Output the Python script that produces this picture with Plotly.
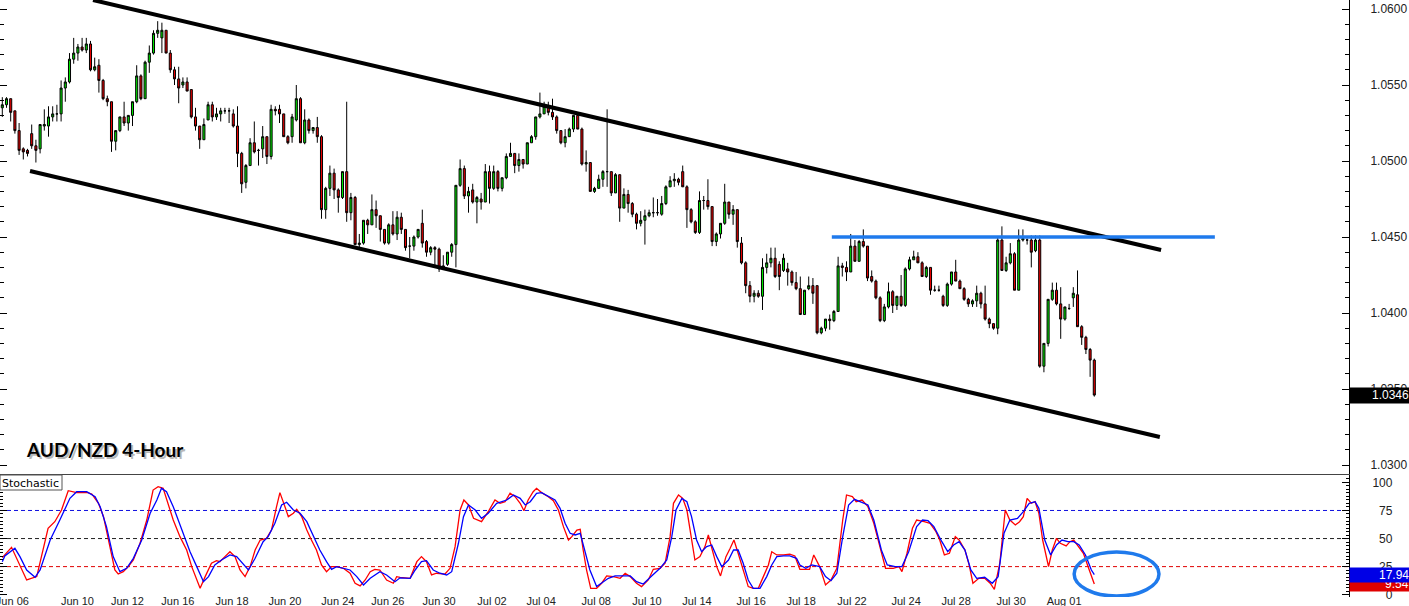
import plotly.graph_objects as go

# ---------------- data ----------------
opens = [
    1.0535, 1.0537, 1.0541, 1.0533, 1.0520, 1.0508, 1.0507, 1.0518, 1.0510, 1.0508,
    1.0523, 1.0523, 1.0529, 1.0531, 1.0531, 1.0548, 1.0552, 1.0567, 1.0571, 1.0575,
    1.0573, 1.0577, 1.0560, 1.0563, 1.0553, 1.0541, 1.0539, 1.0513, 1.0520, 1.0529,
    1.0525, 1.0530, 1.0539, 1.0556, 1.0541, 1.0565, 1.0571, 1.0584, 1.0581, 1.0586,
    1.0571, 1.0560, 1.0554, 1.0550, 1.0552, 1.0547, 1.0529, 1.0523, 1.0514, 1.0527,
    1.0537, 1.0529, 1.0531, 1.0533, 1.0533, 1.0531, 1.0523, 1.0505, 1.0486, 1.0497,
    1.0512, 1.0507, 1.0508, 1.0516, 1.0503, 1.0534, 1.0534, 1.0531, 1.0516, 1.0516,
    1.0527, 1.0541, 1.0512, 1.0527, 1.0520, 1.0522, 1.0516, 1.0468, 1.0482, 1.0492,
    1.0481, 1.0476, 1.0493, 1.0466, 1.0476, 1.0445, 1.0446, 1.0461, 1.0458, 1.0468,
    1.0464, 1.0455, 1.0446, 1.0458, 1.0452, 1.0463, 1.0455, 1.0444, 1.0444, 1.0450,
    1.0459, 1.0447, 1.0440, 1.0443, 1.0442, 1.0430, 1.0432, 1.0440, 1.0445, 1.0484,
    1.0495, 1.0477, 1.0481, 1.0473, 1.0475, 1.0473, 1.0493, 1.0482, 1.0493, 1.0482,
    1.0489, 1.0503, 1.0505, 1.0497, 1.0501, 1.0498, 1.0512, 1.0516, 1.0529, 1.0531,
    1.0536, 1.0532, 1.0529, 1.0520, 1.0512, 1.0516, 1.0521, 1.0530, 1.0521, 1.0498,
    1.0499, 1.0480, 1.0482, 1.0488, 1.0493, 1.0493, 1.0479, 1.0491, 1.0469, 1.0478,
    1.0472, 1.0465, 1.0459, 1.0461, 1.0464, 1.0466, 1.0466, 1.0465, 1.0472, 1.0483,
    1.0487, 1.0488, 1.0493, 1.0483, 1.0468, 1.0460, 1.0453, 1.0474, 1.0474, 1.0470,
    1.0447, 1.0452, 1.0459, 1.0473, 1.0465, 1.0468, 1.0446, 1.0433, 1.0418, 1.0411,
    1.0413, 1.0411, 1.0430, 1.0433, 1.0436, 1.0432, 1.0428, 1.0429, 1.0427, 1.0420,
    1.0416, 1.0399, 1.0416, 1.0418, 1.0418, 1.0387, 1.0390, 1.0396, 1.0395, 1.0401,
    1.0431, 1.0430, 1.0427, 1.0444, 1.0434, 1.0447, 1.0444, 1.0424, 1.0421, 1.0410,
    1.0395, 1.0404, 1.0414, 1.0405, 1.0411, 1.0405, 1.0429, 1.0435, 1.0437, 1.0433,
    1.0424, 1.0430, 1.0415, 1.0415, 1.0411, 1.0405, 1.0419, 1.0427, 1.0421, 1.0416,
    1.0409, 1.0406, 1.0408, 1.0413, 1.0406, 1.0396, 1.0393, 1.0390, 1.0448, 1.0428,
    1.0433, 1.0439, 1.0415, 1.0448, 1.0448, 1.0448, 1.0441, 1.0448, 1.0365, 1.0380,
    1.0409, 1.0415, 1.0406, 1.0396, 1.0403, 1.0410, 1.0412, 1.0391, 1.0384, 1.0376,
    1.0369,
]
highs = [
    1.0542, 1.0542, 1.0541, 1.0533, 1.0525, 1.0509, 1.0508, 1.0524, 1.0514, 1.0524,
    1.0534, 1.0536, 1.0536, 1.0537, 1.0553, 1.0555, 1.0571, 1.0581, 1.0577, 1.0581,
    1.0581, 1.0579, 1.0568, 1.0567, 1.0554, 1.0543, 1.0539, 1.0520, 1.0529, 1.0539,
    1.0530, 1.0539, 1.0563, 1.0557, 1.0566, 1.0576, 1.0586, 1.0592, 1.0591, 1.0586,
    1.0573, 1.0562, 1.0562, 1.0555, 1.0555, 1.0547, 1.0535, 1.0523, 1.0528, 1.0539,
    1.0539, 1.0535, 1.0535, 1.0535, 1.0535, 1.0534, 1.0536, 1.0506, 1.0498, 1.0515,
    1.0526, 1.0508, 1.0523, 1.0516, 1.0537, 1.0536, 1.0537, 1.0531, 1.0517, 1.0531,
    1.0550, 1.0542, 1.0534, 1.0528, 1.0522, 1.0529, 1.0517, 1.0483, 1.0497, 1.0495,
    1.0482, 1.0493, 1.0539, 1.0479, 1.0477, 1.0452, 1.0461, 1.0462, 1.0478, 1.0474,
    1.0464, 1.0455, 1.0459, 1.0467, 1.0467, 1.0466, 1.0455, 1.0450, 1.0451, 1.0455,
    1.0468, 1.0448, 1.0444, 1.0444, 1.0443, 1.0438, 1.0440, 1.0446, 1.0484, 1.0501,
    1.0497, 1.0483, 1.0485, 1.0477, 1.0479, 1.0498, 1.0497, 1.0497, 1.0494, 1.0489,
    1.0505, 1.0512, 1.0505, 1.0505, 1.0501, 1.0512, 1.0517, 1.0529, 1.0545, 1.0539,
    1.0539, 1.0541, 1.0530, 1.0520, 1.0521, 1.0522, 1.0530, 1.0530, 1.0522, 1.0507,
    1.0499, 1.0483, 1.0491, 1.0494, 1.0534, 1.0493, 1.0492, 1.0491, 1.0482, 1.0481,
    1.0473, 1.0466, 1.0467, 1.0468, 1.0468, 1.0476, 1.0475, 1.0477, 1.0484, 1.0490,
    1.0492, 1.0489, 1.0497, 1.0484, 1.0469, 1.0461, 1.0480, 1.0477, 1.0488, 1.0470,
    1.0453, 1.0459, 1.0485, 1.0473, 1.0471, 1.0468, 1.0450, 1.0434, 1.0421, 1.0415,
    1.0415, 1.0436, 1.0439, 1.0443, 1.0443, 1.0434, 1.0439, 1.0433, 1.0428, 1.0427,
    1.0424, 1.0415, 1.0424, 1.0423, 1.0418, 1.0391, 1.0396, 1.0399, 1.0402, 1.0437,
    1.0433, 1.0434, 1.0452, 1.0448, 1.0448, 1.0455, 1.0444, 1.0428, 1.0422, 1.0411,
    1.0406, 1.0420, 1.0415, 1.0411, 1.0425, 1.0430, 1.0437, 1.0441, 1.0440, 1.0434,
    1.0431, 1.0430, 1.0418, 1.0418, 1.0412, 1.0420, 1.0427, 1.0435, 1.0422, 1.0417,
    1.0410, 1.0409, 1.0418, 1.0414, 1.0418, 1.0397, 1.0393, 1.0450, 1.0457, 1.0437,
    1.0446, 1.0440, 1.0455, 1.0455, 1.0449, 1.0451, 1.0451, 1.0451, 1.0380, 1.0409,
    1.0420, 1.0420, 1.0417, 1.0404, 1.0406, 1.0417, 1.0428, 1.0392, 1.0385, 1.0377,
    1.0370,
]
lows = [
    1.0529, 1.0535, 1.0526, 1.0518, 1.0504, 1.0501, 1.0503, 1.0508, 1.0499, 1.0505,
    1.0520, 1.0516, 1.0526, 1.0526, 1.0526, 1.0539, 1.0551, 1.0564, 1.0566, 1.0572,
    1.0571, 1.0559, 1.0559, 1.0545, 1.0540, 1.0536, 1.0506, 1.0507, 1.0519, 1.0523,
    1.0520, 1.0523, 1.0538, 1.0540, 1.0541, 1.0558, 1.0570, 1.0581, 1.0571, 1.0571,
    1.0558, 1.0550, 1.0538, 1.0548, 1.0546, 1.0528, 1.0520, 1.0508, 1.0514, 1.0527,
    1.0526, 1.0527, 1.0526, 1.0531, 1.0525, 1.0522, 1.0496, 1.0479, 1.0482, 1.0497,
    1.0505, 1.0497, 1.0502, 1.0498, 1.0501, 1.0530, 1.0525, 1.0516, 1.0511, 1.0512,
    1.0526, 1.0512, 1.0511, 1.0518, 1.0518, 1.0512, 1.0462, 1.0462, 1.0477, 1.0475,
    1.0466, 1.0475, 1.0460, 1.0461, 1.0445, 1.0443, 1.0445, 1.0452, 1.0458, 1.0456,
    1.0447, 1.0445, 1.0445, 1.0451, 1.0448, 1.0452, 1.0441, 1.0436, 1.0441, 1.0449,
    1.0443, 1.0437, 1.0438, 1.0430, 1.0427, 1.0429, 1.0431, 1.0437, 1.0430, 1.0483,
    1.0475, 1.0466, 1.0472, 1.0459, 1.0468, 1.0473, 1.0472, 1.0481, 1.0480, 1.0480,
    1.0488, 1.0503, 1.0492, 1.0493, 1.0495, 1.0498, 1.0512, 1.0514, 1.0528, 1.0531,
    1.0530, 1.0527, 1.0518, 1.0511, 1.0509, 1.0516, 1.0519, 1.0521, 1.0497, 1.0493,
    1.0480, 1.0479, 1.0482, 1.0483, 1.0483, 1.0477, 1.0479, 1.0460, 1.0469, 1.0466,
    1.0463, 1.0455, 1.0457, 1.0445, 1.0463, 1.0463, 1.0464, 1.0464, 1.0471, 1.0483,
    1.0483, 1.0484, 1.0483, 1.0456, 1.0459, 1.0452, 1.0452, 1.0468, 1.0468, 1.0444,
    1.0444, 1.0449, 1.0458, 1.0462, 1.0458, 1.0443, 1.0432, 1.0413, 1.0407, 1.0407,
    1.0410, 1.0402, 1.0426, 1.0430, 1.0423, 1.0415, 1.0427, 1.0418, 1.0418, 1.0415,
    1.0399, 1.0399, 1.0415, 1.0406, 1.0386, 1.0386, 1.0388, 1.0389, 1.0394, 1.0401,
    1.0424, 1.0421, 1.0427, 1.0434, 1.0434, 1.0443, 1.0421, 1.0420, 1.0409, 1.0394,
    1.0394, 1.0403, 1.0400, 1.0402, 1.0404, 1.0404, 1.0428, 1.0435, 1.0433, 1.0424,
    1.0423, 1.0412, 1.0414, 1.0414, 1.0404, 1.0404, 1.0418, 1.0421, 1.0416, 1.0408,
    1.0404, 1.0404, 1.0404, 1.0403, 1.0395, 1.0390, 1.0389, 1.0386, 1.0428, 1.0427,
    1.0432, 1.0415, 1.0415, 1.0447, 1.0445, 1.0430, 1.0440, 1.0364, 1.0361, 1.0378,
    1.0408, 1.0405, 1.0383, 1.0395, 1.0402, 1.0404, 1.0391, 1.0379, 1.0373, 1.0358,
    1.0345,
]
closes = [
    1.0537, 1.0541, 1.0532, 1.0520, 1.0507, 1.0506, 1.0505, 1.0510, 1.0507, 1.0524,
    1.0524, 1.0529, 1.0531, 1.0531, 1.0548, 1.0552, 1.0567, 1.0571, 1.0575, 1.0573,
    1.0577, 1.0560, 1.0562, 1.0553, 1.0541, 1.0539, 1.0513, 1.0520, 1.0529, 1.0525,
    1.0530, 1.0539, 1.0556, 1.0541, 1.0565, 1.0571, 1.0584, 1.0586, 1.0586, 1.0571,
    1.0560, 1.0554, 1.0548, 1.0552, 1.0546, 1.0529, 1.0523, 1.0514, 1.0524, 1.0537,
    1.0529, 1.0531, 1.0533, 1.0533, 1.0533, 1.0523, 1.0505, 1.0485, 1.0497, 1.0512,
    1.0506, 1.0507, 1.0516, 1.0503, 1.0534, 1.0533, 1.0531, 1.0516, 1.0512, 1.0529,
    1.0541, 1.0512, 1.0527, 1.0520, 1.0522, 1.0516, 1.0468, 1.0482, 1.0492, 1.0481,
    1.0476, 1.0493, 1.0466, 1.0476, 1.0445, 1.0446, 1.0461, 1.0458, 1.0468, 1.0464,
    1.0455, 1.0446, 1.0458, 1.0452, 1.0463, 1.0455, 1.0443, 1.0444, 1.0450, 1.0455,
    1.0446, 1.0440, 1.0443, 1.0442, 1.0429, 1.0431, 1.0440, 1.0445, 1.0484, 1.0495,
    1.0477, 1.0480, 1.0473, 1.0476, 1.0473, 1.0493, 1.0482, 1.0493, 1.0482, 1.0489,
    1.0503, 1.0505, 1.0497, 1.0501, 1.0498, 1.0512, 1.0516, 1.0529, 1.0531, 1.0536,
    1.0532, 1.0529, 1.0520, 1.0512, 1.0516, 1.0521, 1.0530, 1.0521, 1.0498, 1.0499,
    1.0480, 1.0482, 1.0488, 1.0493, 1.0493, 1.0479, 1.0491, 1.0469, 1.0478, 1.0472,
    1.0465, 1.0459, 1.0461, 1.0464, 1.0466, 1.0466, 1.0466, 1.0472, 1.0483, 1.0487,
    1.0488, 1.0486, 1.0483, 1.0468, 1.0460, 1.0453, 1.0474, 1.0474, 1.0470, 1.0447,
    1.0452, 1.0459, 1.0473, 1.0465, 1.0468, 1.0447, 1.0433, 1.0418, 1.0411, 1.0413,
    1.0411, 1.0430, 1.0433, 1.0436, 1.0424, 1.0424, 1.0436, 1.0427, 1.0420, 1.0416,
    1.0399, 1.0415, 1.0418, 1.0413, 1.0387, 1.0390, 1.0396, 1.0395, 1.0401, 1.0431,
    1.0430, 1.0427, 1.0444, 1.0434, 1.0447, 1.0444, 1.0423, 1.0421, 1.0410, 1.0395,
    1.0404, 1.0414, 1.0405, 1.0411, 1.0405, 1.0429, 1.0435, 1.0437, 1.0433, 1.0424,
    1.0430, 1.0415, 1.0415, 1.0415, 1.0405, 1.0419, 1.0427, 1.0421, 1.0416, 1.0409,
    1.0406, 1.0408, 1.0413, 1.0406, 1.0396, 1.0393, 1.0390, 1.0448, 1.0428, 1.0433,
    1.0439, 1.0415, 1.0448, 1.0449, 1.0448, 1.0440, 1.0448, 1.0365, 1.0380, 1.0409,
    1.0415, 1.0406, 1.0396, 1.0404, 1.0403, 1.0413, 1.0391, 1.0384, 1.0376, 1.0369,
    1.0346,
]

# Time-axis labels (bar position, text)
date_label_pos = [2.4, 17.9, 29.8, 41.8, 54.7, 67.3, 79.9, 91.8, 104.0, 116.6, 128.3,
                  141.4, 153.5, 165.4, 178.3, 190.2, 202.3, 215.2, 227.1, 240.2, 252.8]
date_labels = ["Jun 06", "Jun 10", "Jun 12", "Jun 16", "Jun 18", "Jun 20", "Jun 24",
               "Jun 26", "Jun 30", "Jul 02", "Jul 04", "Jul 08", "Jul 10", "Jul 14",
               "Jul 16", "Jul 18", "Jul 22", "Jul 24", "Jul 28", "Jul 30", "Aug 01"]

# Stochastic %K (red) and %D (blue): (bar position, value)
stoch_k_points = [
    (0, 33.0), (2.2, 42.2), (5.8, 13.1), (8.2, 16.1), (10.9, 59.1), (12.5, 65.0), (14.1, 75.4),
    (15.7, 92.6), (17.7, 90.9), (20.1, 91.2), (21.3, 89.7), (22.9, 81.4), (24.1, 69.5),
    (25.6, 42.8), (26.8, 22.0), (27.6, 18.4), (28.8, 20.5), (30.0, 25.0), (31.2, 30.9),
    (32.8, 45.8), (34.4, 66.5), (35.9, 93.2), (37.1, 96.2), (38.3, 94.7), (39.5, 81.4),
    (40.7, 66.5), (42.3, 51.7), (43.9, 39.8), (45.1, 25.0), (46.3, 13.1), (47.1, 5.7),
    (48.3, 16.1), (49.8, 28.0), (51.0, 30.3), (51.8, 29.4), (53.0, 33.9), (54.2, 38.3),
    (55.4, 33.9), (56.6, 22.0), (57.8, 16.1), (59.0, 25.0), (60.2, 39.8), (61.4, 48.7),
    (62.9, 50.2), (64.1, 57.6), (65.3, 78.4), (66.1, 90.9), (67.3, 78.4), (68.1, 69.5),
    (69.3, 72.5), (70.1, 76.0), (71.3, 69.5), (72.5, 57.6), (73.6, 48.7), (74.8, 39.8),
    (76.0, 26.5), (77.2, 20.5), (78.4, 25.0), (79.6, 25.0), (81.2, 23.5), (82.8, 19.1),
    (84.0, 10.2), (85.2, 7.8), (86.4, 13.1), (87.6, 20.5), (88.7, 22.6), (89.9, 22.0),
    (91.5, 13.1), (93.1, 10.2), (93.9, 16.1), (94.7, 15.5), (97.1, 14.6), (98.7, 29.4),
    (99.8, 33.9), (101.0, 29.4), (102.2, 17.6), (103.4, 19.1), (105.4, 18.4), (106.6, 23.5),
    (107.8, 42.8), (109.0, 75.4), (109.9, 84.3), (111.0, 79.9), (112.2, 68.0), (114.1, 65.0),
    (115.7, 73.9), (117.3, 84.3), (118.5, 81.4), (119.7, 82.8), (120.9, 90.3), (122.1, 87.3),
    (123.3, 81.4), (124.2, 74.8), (125.2, 84.3), (126.4, 91.7), (127.2, 94.7), (128.4, 90.9),
    (130.0, 87.3), (131.2, 83.7), (132.4, 75.4), (133.6, 60.6), (134.8, 48.7), (135.6, 51.7),
    (136.8, 57.6), (137.6, 58.2), (138.3, 39.8), (139.1, 22.0), (140.1, 5.7), (141.5, 5.7),
    (142.7, 10.2), (143.9, 16.7), (145.5, 16.1), (147.1, 14.6), (148.3, 19.1), (149.5, 16.1),
    (151.0, 10.2), (152.2, 7.2), (153.8, 13.1), (155.0, 22.6), (156.6, 23.5), (157.8, 28.0),
    (159.0, 51.7), (159.8, 81.4), (161.0, 88.8), (162.0, 85.8), (163.0, 75.4), (164.1, 51.7),
    (164.9, 30.9), (166.1, 33.9), (167.3, 42.8), (168.1, 53.2), (168.9, 42.8), (170.1, 25.0),
    (171.0, 16.7), (172.3, 33.9), (173.3, 41.3), (174.2, 48.7), (175.2, 36.9), (176.4, 22.0),
    (177.6, 7.2), (178.8, 5.7), (180.0, 5.7), (181.2, 16.1), (182.4, 26.5), (183.2, 38.3),
    (184.4, 35.4), (186.0, 35.4), (187.5, 36.2), (188.7, 34.5), (189.9, 22.5), (192.2, 22.6),
    (193.2, 35.4), (194.6, 25.0), (196.0, 8.7), (197.3, 13.1), (198.7, 23.5), (200.1, 66.5),
    (201.0, 88.8), (202.4, 87.3), (203.3, 82.8), (204.7, 84.3), (206.1, 78.4), (207.5, 63.6),
    (208.9, 42.8), (210.3, 23.5), (212.1, 23.5), (213.5, 25.0), (214.2, 20.5), (215.4, 36.9),
    (216.7, 59.1), (217.7, 66.5), (219.5, 65.0), (220.9, 63.6), (222.3, 56.1), (223.2, 48.7),
    (224.3, 35.4), (225.5, 36.9), (226.9, 51.7), (227.8, 48.7), (229.2, 39.8), (230.2, 26.5),
    (231.1, 10.2), (232.5, 14.6), (233.9, 14.6), (235.2, 10.2), (236.2, 4.8), (237.5, 28.0),
    (238.8, 75.4), (239.9, 66.5), (241.2, 62.1), (242.2, 65.0), (243.1, 69.5), (244.0, 85.8),
    (245.0, 81.4), (245.9, 82.8), (246.8, 72.5), (247.7, 48.7), (249.1, 25.0), (250.0, 39.8),
    (251.0, 50.2), (251.9, 45.8), (253.3, 43.4), (254.2, 47.2), (255.1, 48.7), (256.0, 44.3),
    (257.4, 36.9), (258.8, 22.0), (260.0, 9.54),
]
stoch_d_points = [
    (0, 29.4), (0.6, 34.5), (3.0, 41.3), (4.2, 33.9), (5.8, 22.0), (7.8, 15.5), (9.0, 22.0),
    (11.4, 48.7), (13.7, 66.5), (16.1, 85.8), (17.7, 91.7), (20.1, 91.7), (22.1, 87.3),
    (23.3, 78.4), (24.8, 60.6), (26.4, 33.9), (28.0, 20.5), (29.6, 23.5), (31.2, 32.4),
    (33.2, 48.7), (35.2, 72.5), (36.8, 84.3), (37.9, 94.7), (39.1, 91.7), (40.7, 78.4),
    (42.7, 57.6), (44.7, 38.3), (46.3, 25.0), (47.9, 11.6), (49.1, 16.1), (50.6, 26.5),
    (52.2, 30.9), (54.2, 35.4), (55.8, 33.9), (57.4, 26.5), (58.6, 22.0), (60.2, 32.4),
    (62.1, 47.2), (63.3, 51.7), (64.9, 63.6), (66.5, 79.9), (67.7, 82.3), (69.3, 75.4),
    (70.9, 72.5), (72.5, 65.0), (74.1, 51.7), (75.6, 39.8), (77.2, 29.4), (78.4, 22.6),
    (79.6, 25.0), (81.2, 23.5), (82.8, 22.0), (84.4, 16.1), (86.0, 8.7), (87.6, 14.6),
    (89.9, 20.5), (91.5, 17.6), (93.5, 11.6), (94.7, 15.0), (97.1, 14.6), (98.3, 22.0),
    (99.8, 29.4), (101.0, 30.3), (102.6, 22.0), (104.2, 19.1), (105.8, 17.6), (107.0, 20.5),
    (108.6, 45.8), (109.8, 69.5), (111.0, 79.9), (112.6, 75.4), (114.1, 68.0), (115.7, 72.5),
    (117.7, 81.4), (120.1, 84.3), (121.7, 88.8), (123.3, 85.8), (124.5, 79.9), (125.7, 82.8),
    (127.2, 90.3), (128.4, 90.9), (130.0, 87.3), (131.6, 84.3), (132.8, 76.9), (134.0, 63.6),
    (135.2, 54.7), (136.4, 53.2), (137.6, 54.7), (138.7, 39.8), (139.9, 22.0), (141.5, 7.2),
    (142.7, 10.2), (144.3, 14.6), (145.9, 16.7), (147.5, 16.7), (149.5, 16.7), (151.0, 11.6),
    (152.6, 9.5), (154.6, 16.7), (156.6, 23.5), (158.2, 30.9), (159.4, 51.7), (160.4, 75.4),
    (161.8, 85.8), (163.0, 82.8), (164.1, 69.5), (165.3, 48.7), (166.5, 38.3), (167.7, 42.8),
    (168.9, 44.3), (170.1, 33.9), (171.3, 25.0), (172.9, 30.9), (174.1, 39.8), (175.2, 39.8),
    (176.4, 28.0), (177.6, 13.1), (178.8, 5.7), (180.4, 5.7), (182.0, 16.1), (183.2, 26.5),
    (184.4, 33.9), (186.0, 34.5), (187.5, 34.5), (189.1, 32.4), (189.9, 26.5), (191.3, 23.5),
    (192.7, 26.5), (194.6, 25.0), (196.0, 16.1), (197.3, 12.5), (198.7, 19.1), (200.1, 51.7),
    (201.5, 79.9), (202.9, 84.9), (204.3, 82.8), (206.1, 79.9), (207.5, 66.5), (209.3, 39.8),
    (210.7, 26.5), (212.6, 25.0), (214.2, 25.0), (215.8, 38.3), (217.7, 60.6), (219.1, 66.5),
    (220.4, 65.9), (221.8, 60.6), (223.7, 47.2), (225.1, 38.3), (226.5, 44.3), (227.8, 47.2),
    (229.2, 39.8), (230.6, 22.0), (232.0, 14.6), (233.9, 15.5), (235.7, 10.2), (237.1, 16.1),
    (238.5, 54.7), (239.9, 66.5), (241.7, 68.0), (243.1, 73.9), (244.5, 81.4), (245.9, 82.8),
    (246.8, 76.9), (248.2, 48.7), (249.6, 35.4), (251.0, 44.3), (252.3, 48.7), (253.7, 47.2),
    (255.1, 47.2), (256.4, 44.3), (257.9, 35.4), (259.3, 22.0), (260.0, 17.94),
]

# Drawn analysis lines (bar position, price)
upper_channel_pos = [21.6, 275.9]
upper_channel_price = [1.06059, 1.04414]
lower_channel_pos = [6.6, 275.6]
lower_channel_price = [1.04934, 1.03184]
resistance_pos = [197.5, 288.7]
resistance_price = [1.0450, 1.0450]
stoch_levels = [75, 50, 25]
stoch_level_colors = ["#1010e0", "#202020", "#e00000"]
ellipse_pos = [255.2, 275.4]
ellipse_vals = [-1.2, 38.0]

last_price = 1.0346
last_k = 9.54
last_d = 17.94

# ---------------- figure ----------------
W, H = 1409, 606
X_RIGHT = 1349 / W
bars = list(range(len(closes)))
x_range = [-0.548, 320.64]

fig = go.Figure()

fig.add_trace(go.Candlestick(
    x=bars, open=opens, high=highs, low=lows, close=closes,
    increasing=dict(fillcolor="#00e400", line=dict(color="black", width=1)),
    decreasing=dict(fillcolor="#e60000", line=dict(color="black", width=1)),
    whiskerwidth=0, hoverinfo="skip", showlegend=False, xaxis="x", yaxis="y",
))

for xs, ys in [(upper_channel_pos, upper_channel_price), (lower_channel_pos, lower_channel_price)]:
    fig.add_trace(go.Scatter(x=xs, y=ys, mode="lines", line=dict(color="black", width=4),
                             hoverinfo="skip", showlegend=False, xaxis="x", yaxis="y"))
fig.add_trace(go.Scatter(x=resistance_pos, y=resistance_price, mode="lines",
                         line=dict(color="#1f7aec", width=3.5),
                         hoverinfo="skip", showlegend=False, xaxis="x", yaxis="y"))

fig.add_trace(go.Scatter(x=[p[0] for p in stoch_k_points], y=[p[1] for p in stoch_k_points],
                         mode="lines", line=dict(color="#ff0000", width=1.3),
                         hoverinfo="skip", showlegend=False, xaxis="x2", yaxis="y2"))
fig.add_trace(go.Scatter(x=[p[0] for p in stoch_d_points], y=[p[1] for p in stoch_d_points],
                         mode="lines", line=dict(color="#0000ff", width=1.3),
                         hoverinfo="skip", showlegend=False, xaxis="x2", yaxis="y2"))

shapes = []
for lvl, col in zip(stoch_levels, stoch_level_colors):
    shapes.append(dict(type="line", xref="x2 domain", yref="y2", x0=0, x1=1, y0=lvl, y1=lvl,
                       line=dict(color=col, width=1, dash="4px,3px"), layer="below"))
shapes.append(dict(type="circle", xref="x2", yref="y2", x0=ellipse_pos[0], x1=ellipse_pos[1],
                   y0=ellipse_vals[0], y1=ellipse_vals[1],
                   line=dict(color="#1f7aec", width=3.5)))
# "Stochastic" caption box
shapes.append(dict(type="rect", xref="paper", yref="paper", x0=0, x1=62 / W,
                   y0=1 - 490 / H, y1=1 - 475 / H, fillcolor="white",
                   line=dict(color="#555555", width=1)))

annotations = []
# title with soft shadow
for dx, dy, col in [(2, 2, "rgba(0,0,0,0.28)"), (0, 0, "black")]:
    annotations.append(dict(text="<b>AUD/NZD 4-Hour</b>", xref="paper", yref="paper",
                            x=(24 + dx) / W, y=1 - (449 + dy) / H, xanchor="left", yanchor="middle",
                            showarrow=False, font=dict(family="Lato", size=19, color=col)))
annotations.append(dict(text="Stochastic", xref="paper", yref="paper", x=0, y=1 - 483 / H,
                        xanchor="left", yanchor="middle", showarrow=False,
                        font=dict(family="DejaVu Sans", size=11, color="black")))


def value_box(y, yref, h, bg, label):
    annotations.append(dict(text=" ", xref="paper", yref=yref, x=X_RIGHT, y=y, xanchor="left",
                            yanchor="middle", width=64, height=h, bgcolor=bg, borderpad=0,
                            showarrow=False, font=dict(size=10)))
    annotations.append(dict(text=label, xref="paper", yref=yref, x=1411 / W, y=y,
                            xanchor="right", yanchor="middle", showarrow=False,
                            font=dict(family="Liberation Sans", size=12, color="white")))


value_box(last_price, "y", 15, "black", f"{last_price:.4f}")
value_box(last_k, "y2", 14, "#e00000", f"{last_k:.2f}")
value_box(last_d, "y2", 14, "#0000e6", f"{last_d:.2f}")

axis_font = dict(family="Liberation Sans", size=12, color="#222222")

fig.update_layout(
    width=W, height=H, margin=dict(l=0, r=0, t=0, b=0, autoexpand=False),
    paper_bgcolor="white", plot_bgcolor="white", showlegend=False,
    font=dict(family="Liberation Sans"), hovermode=False,
    xaxis=dict(domain=[0, X_RIGHT], range=x_range, anchor="y", showticklabels=False,
               ticks="", showgrid=False, zeroline=False, showline=True, mirror=True,
               linecolor="#444444", linewidth=1, rangeslider=dict(visible=False),
               automargin=False),
    yaxis=dict(domain=[1 - 474 / H, 1], range=[1.029408, 1.060592], anchor="x", side="right",
               tickmode="linear", tick0=1.03, dtick=0.005, tickformat=".4f",
               ticks="inside", ticklen=7, tickcolor="black",
               minor=dict(tickmode="linear", tick0=1.03, dtick=0.001, ticks="inside",
                          ticklen=4, tickcolor="black"),
               showline=True, linecolor="black", linewidth=1, mirror="ticks",
               showgrid=False, zeroline=False, tickfont=axis_font, ticklabelstandoff=18,
               ticklabeloverflow="allow", automargin=False),
    xaxis2=dict(domain=[0, X_RIGHT], range=x_range, anchor="y2", matches="x",
                tickmode="array", tickvals=date_label_pos, ticktext=date_labels,
                ticks="", showgrid=False, zeroline=False, showline=False,
                tickfont=dict(family="Liberation Sans", size=11, color="#222222"),
                ticklabelstandoff=-4, ticklabeloverflow="allow", automargin=False),
    yaxis2=dict(domain=[1 - 597 / H, 1 - 475 / H], range=[-2.05, 106.59], anchor="x2",
                side="right", tickmode="array", tickvals=[0, 25, 50, 75, 100],
                ticktext=["\u2007\u20070", "\u200725", "\u200750", "\u200775", "100"],
                ticks="inside", ticklen=7, tickcolor="black",
                minor=dict(tickmode="linear", tick0=0, dtick=3.125, ticks="inside",
                           ticklen=3, tickcolor="black"),
                showline=True, linecolor="black", linewidth=1, mirror="ticks",
                showgrid=False, zeroline=False, tickfont=axis_font, ticklabelstandoff=20,
                ticklabeloverflow="allow", automargin=False),
    shapes=shapes, annotations=annotations,
)

fig.write_html(
    "out.html",
    config={"displayModeBar": False},
    post_script="document.body.style.margin='0';document.body.style.overflow='hidden';",
)
